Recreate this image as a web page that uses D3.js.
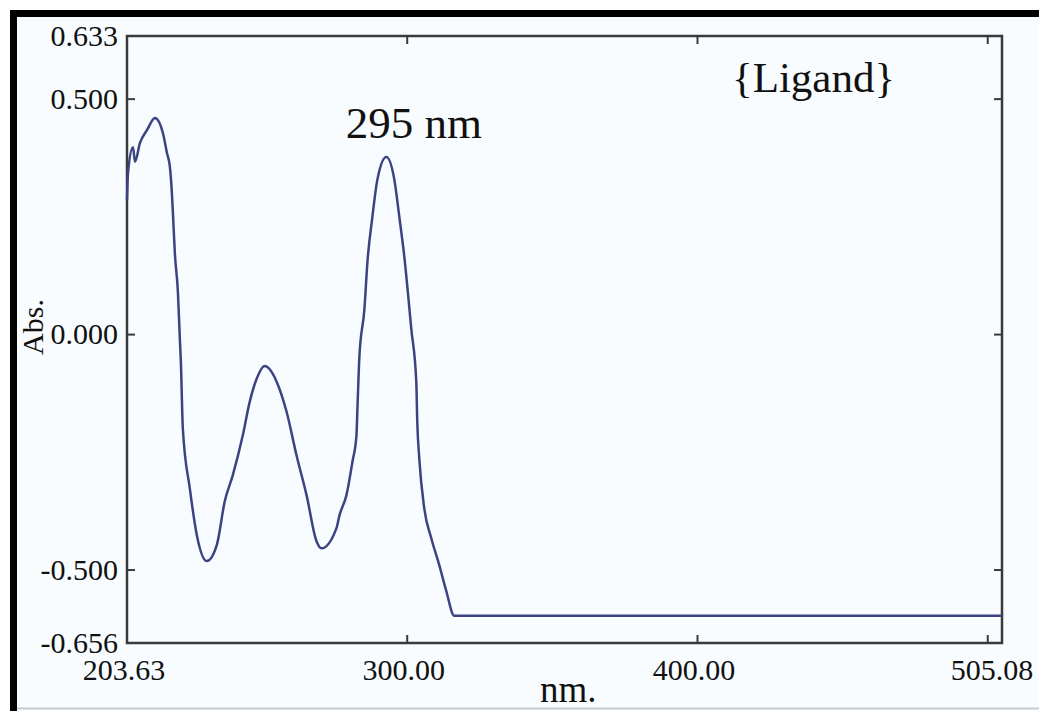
<!DOCTYPE html>
<html>
<head>
<meta charset="utf-8">
<script src="https://cdn.jsdelivr.net/npm/d3@7"></script>
<style>
  html, body { margin: 0; padding: 0; background: #fff; }
  svg { display: block; font-family: "Times New Roman", "Liberation Serif", Times, serif; }
</style>
</head>
<body>
<div id="chart"></div>
<script>
// wavelength (nm) and absorbance
const wavelength = [203.63, 203.97, 205.69, 206.38, 208.10, 210.50, 213.25, 216.00, 217.38, 218.41,
    219.09, 219.44, 220.13, 221.16, 221.84, 222.19, 222.87, 225.28, 227.69, 231.12,
    234.56, 237.31, 240.06, 243.49, 245.90, 248.30, 251.05, 255.18, 258.61, 262.05,
    265.49, 268.92, 270.64, 275.80, 276.83, 279.23, 281.30, 282.67, 283.01, 283.70,
    285.42, 286.45, 288.17, 289.89, 292.98, 295.73, 297.45, 299.16, 301.57, 303.29,
    303.63, 304.32, 306.04, 308.44, 311.19, 313.60, 316.38, 505.08];
const absorbance = [0.285, 0.342, 0.397, 0.366, 0.406, 0.433, 0.459, 0.427, 0.385, 0.355,
    0.300, 0.258, 0.170, 0.090, -0.011, -0.059, -0.201, -0.328, -0.427, -0.482,
    -0.448, -0.355, -0.300, -0.216, -0.144, -0.095, -0.068, -0.101, -0.165, -0.258,
    -0.342, -0.440, -0.455, -0.412, -0.385, -0.342, -0.271, -0.216, -0.159, -0.047,
    0.053, 0.152, 0.249, 0.328, 0.376, 0.328, 0.249, 0.165, 0.011, -0.101,
    -0.186, -0.264, -0.370, -0.433, -0.490, -0.545, -0.598, -0.598];

const xDomain = [203.63, 505.08];
const yDomain = [-0.656, 0.633];
const xTicks = [300, 400, 500];
const yTicks = [-0.5, 0, 0.5];
const xTickLabels = ['203.63', '300.00', '400.00', '505.08'];
const xTickLabelValues = [203.63, 300, 400, 505.08];
const yTickLabels = ['0.633', '0.500', '0.000', '-0.500', '-0.656'];
const yTickLabelValues = [0.633, 0.5, 0, -0.5, -0.656];

const width = 1039, height = 711;
const margin = {top: 36, right: 37, bottom: 68, left: 127};

const svg = d3.select('#chart').append('svg')
    .attr('width', width)
    .attr('height', height);

// photo background and black frame edges
svg.append('rect').attr('x', 10).attr('y', 10).attr('width', width - 10).attr('height', height - 10).attr('fill', '#f8fcfe');
svg.append('rect').attr('x', 10).attr('y', 10).attr('width', width - 10).attr('height', 7).attr('fill', '#000');
svg.append('rect').attr('x', 10).attr('y', 10).attr('width', 7).attr('height', height - 10).attr('fill', '#000');
svg.append('line').attr('x1', 17).attr('x2', width).attr('y1', 708.5).attr('y2', 708.5)
    .attr('stroke', '#c8cacc').attr('stroke-width', 2);

let x = d3.scaleLinear().domain(xDomain).range([margin.left, width - margin.right]);
let y = d3.scaleLinear().domain(yDomain).range([height - margin.bottom, margin.top]);

const axisColor = '#3a3a3a';
const tickLen = 8;

let g = svg.append('g');

// inward ticks on all four sides
const bottomAxis = d3.axisBottom(x).tickValues(xTicks).tickSize(-tickLen).tickFormat('');
const topAxis = d3.axisTop(x).tickValues(xTicks).tickSize(-tickLen).tickFormat('');
const leftAxis = d3.axisLeft(y).tickValues(yTicks).tickSize(-tickLen).tickFormat('');
const rightAxis = d3.axisRight(y).tickValues(yTicks).tickSize(-tickLen).tickFormat('');

g.append('g').attr('transform', 'translate(0,' + y(yDomain[0]) + ')').call(bottomAxis);
g.append('g').attr('transform', 'translate(0,' + y(yDomain[1]) + ')').call(topAxis);
g.append('g').attr('transform', 'translate(' + x(xDomain[0]) + ',0)').call(leftAxis);
g.append('g').attr('transform', 'translate(' + x(xDomain[1]) + ',0)').call(rightAxis);

g.selectAll('.domain').remove();
g.selectAll('.tick line').attr('stroke', axisColor).attr('stroke-width', 2);

g.append('rect')
    .attr('x', x(xDomain[0]))
    .attr('y', y(yDomain[1]))
    .attr('width', x(xDomain[1]) - x(xDomain[0]))
    .attr('height', y(yDomain[0]) - y(yDomain[1]))
    .attr('fill', 'none')
    .attr('stroke', axisColor)
    .attr('stroke-width', 2.5);

// tick labels
svg.selectAll('.xlab')
    .data(xTickLabels)
    .enter()
    .append('text')
    .attr('class', 'xlab')
    .attr('x', function(d, i) {return i === 3 ? x(xTickLabelValues[i]) - 10 : x(xTickLabelValues[i]) - 3})
    .attr('y', y(yDomain[0]) + 37)
    .attr('text-anchor', 'middle')
    .style('font-size', '30px')
    .attr('fill', '#111')
    .text(function(d) {return d});

svg.selectAll('.ylab')
    .data(yTickLabels)
    .enter()
    .append('text')
    .attr('class', 'ylab')
    .attr('x', x(xDomain[0]) - 9)
    .attr('y', function(d, i) {return y(yTickLabelValues[i]) + 10})
    .attr('text-anchor', 'end')
    .style('font-size', '30px')
    .attr('fill', '#111')
    .text(function(d) {return d});

// axis titles
svg.append('text')
    .attr('transform', 'translate(43,327) rotate(-90)')
    .attr('text-anchor', 'middle')
    .style('font-size', '30px')
    .attr('fill', '#111')
    .text('Abs.');

svg.append('text')
    .attr('x', 540)
    .attr('y', 702)
    .style('font-size', '37px')
    .attr('fill', '#111')
    .text('nm.');

// spectrum
const line = d3.line()
    .x(function(d, i) {return x(wavelength[i])})
    .y(function(d) {return y(d)})
    .curve(d3.curveMonotoneX);

svg.append('path')
    .datum(absorbance)
    .attr('d', line)
    .attr('fill', 'none')
    .attr('stroke', '#3c4383')
    .attr('stroke-width', 2.5)
    .attr('stroke-linejoin', 'round');

// annotations
svg.append('text')
    .attr('x', 414)
    .attr('y', 138)
    .attr('text-anchor', 'middle')
    .style('font-size', '45px')
    .attr('fill', '#111')
    .text('295 nm');

svg.append('text')
    .attr('x', 732)
    .attr('y', 92)
    .style('font-size', '43px')
    .attr('fill', '#111')
    .text('{Ligand}');
</script>
</body>
</html>
